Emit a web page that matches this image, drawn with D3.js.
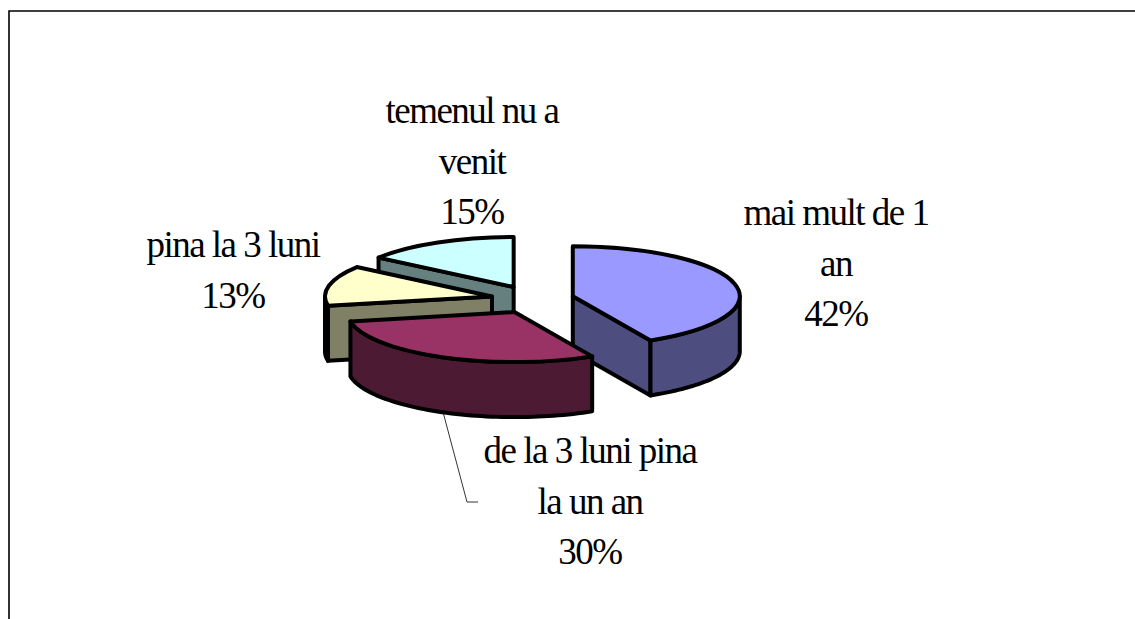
<!DOCTYPE html>
<html>
<head>
<meta charset="utf-8">
<script src="https://cdnjs.cloudflare.com/ajax/libs/d3/7.8.5/d3.min.js"></script>
<style>
  html, body { margin: 0; padding: 0; background: #fff; overflow: hidden; }
  text { font-family: "Liberation Serif", serif; font-size: 37px; letter-spacing: -1.5px; fill: #000; }
</style>
</head>
<body>
<div id="chart"></div>
<script>
var categories = ["mai mult de 1 an", "de la 3 luni pina la un an", "pina la 3 luni", "temenul nu a venit"];
var values = [42.3, 29.7, 13, 15];
var labelLines = [["mai mult de 1", "an", "42%"],
                  ["de la 3 luni pina", "la un an", "30%"],
                  ["pina la 3 luni", "13%"],
                  ["temenul nu a", "venit", "15%"]];

// Configuration parameters.
var width = 1135,
    height = 619,
    cx = 532.5,
    cy = 299.5,
    rx = 167,
    ry = 50,
    depth = 55,
    explodeX = 41.5,
    explodeY = 14,
    lineHeight = 50.5,
    strokeWidth = 4;

var topColors = ["#9999ff", "#993366", "#ffffcc", "#ccffff"],
    sideColors = ["#4d4d80", "#4d1a33", "#808066", "#668080"],
    labelAnchors = [[836, 225], [590, 463], [233, 257], [472, 123]],
    drawOrder = [3, 2, 0, 1];

var svg = d3.select("#chart").append("svg")
    .attr("width", width)
    .attr("height", height)
    .style("display", "block");

// Chart frame, only the top and left sides are in the picture.
svg.append("path")
    .attr("d", "M9," + height + "V11H" + width)
    .attr("fill", "none")
    .attr("stroke", "#000")
    .attr("stroke-width", 1.6);

var slices = d3.pie().sort(null).value(function (d){ return d; })(values);

// Flat arc, squashed into an ellipse with a scale transform on its group.
var arc = d3.arc().innerRadius(0).outerRadius(rx);

// Screen position of an angle on the rim of a slice.
function rim(a){
  return [rx * Math.sin(a), -ry * Math.cos(a)];
}

// Wall below the rim between two angles.
function wallPath(a0, a1){
  var n = 60,
      pts = d3.range(n + 1).map(function (i){ return rim(a0 + (a1 - a0) * i / n); }),
      line = d3.line();
  return line(pts) + "L" + line(pts.slice().reverse().map(function (p){
    return [p[0], p[1] + depth];
  })).slice(1) + "Z";
}

// Flat wall from the apex to a rim point.
function cutPath(a){
  var p = rim(a);
  return d3.line()([[0, 0], p, [p[0], p[1] + depth], [0, depth]]) + "Z";
}

drawOrder.forEach(function (i){
  var s = slices[i],
      mid = (s.startAngle + s.endAngle) / 2,
      g = svg.append("g").attr("transform", "translate(" +
        (cx + explodeX * Math.sin(mid)) + "," + (cy - explodeY * Math.cos(mid)) + ")");

  function side(d){
    g.append("path")
      .attr("d", d)
      .attr("fill", sideColors[i])
      .attr("stroke", "#000")
      .attr("stroke-width", strokeWidth)
      .attr("stroke-linejoin", "round");
  }

  // Cut faces that look toward the viewer.
  if(Math.cos(s.startAngle - Math.PI / 2) < 0) side(cutPath(s.startAngle));
  if(Math.cos(s.endAngle + Math.PI / 2) < 0) side(cutPath(s.endAngle));

  // Outer wall, only the part on the front half of the ellipse.
  var a0 = Math.max(s.startAngle, Math.PI / 2),
      a1 = Math.min(s.endAngle, 3 * Math.PI / 2);
  if(a0 < a1) side(wallPath(a0, a1));

  // Top face.
  g.append("g")
    .attr("transform", "scale(1," + ry / rx + ")")
    .append("path")
      .attr("d", arc(s))
      .attr("fill", topColors[i])
      .attr("stroke", "#000")
      .attr("stroke-width", strokeWidth)
      .attr("stroke-linejoin", "round")
      .attr("vector-effect", "non-scaling-stroke");
});

// Leader line of the red slice.
svg.append("path")
  .attr("d", d3.line()([[443, 412], [467, 502], [478, 502]]))
  .attr("fill", "none")
  .attr("stroke", "#000")
  .attr("stroke-width", 0.8);

// Labels.
labelLines.forEach(function (lines, i){
  var t = svg.append("text")
    .attr("text-anchor", "middle")
    .attr("aria-label", categories[i]);
  lines.forEach(function (line, j){
    t.append("tspan")
      .attr("x", labelAnchors[i][0])
      .attr("y", labelAnchors[i][1] + j * lineHeight)
      .text(line);
  });
});
</script>
</body>
</html>
